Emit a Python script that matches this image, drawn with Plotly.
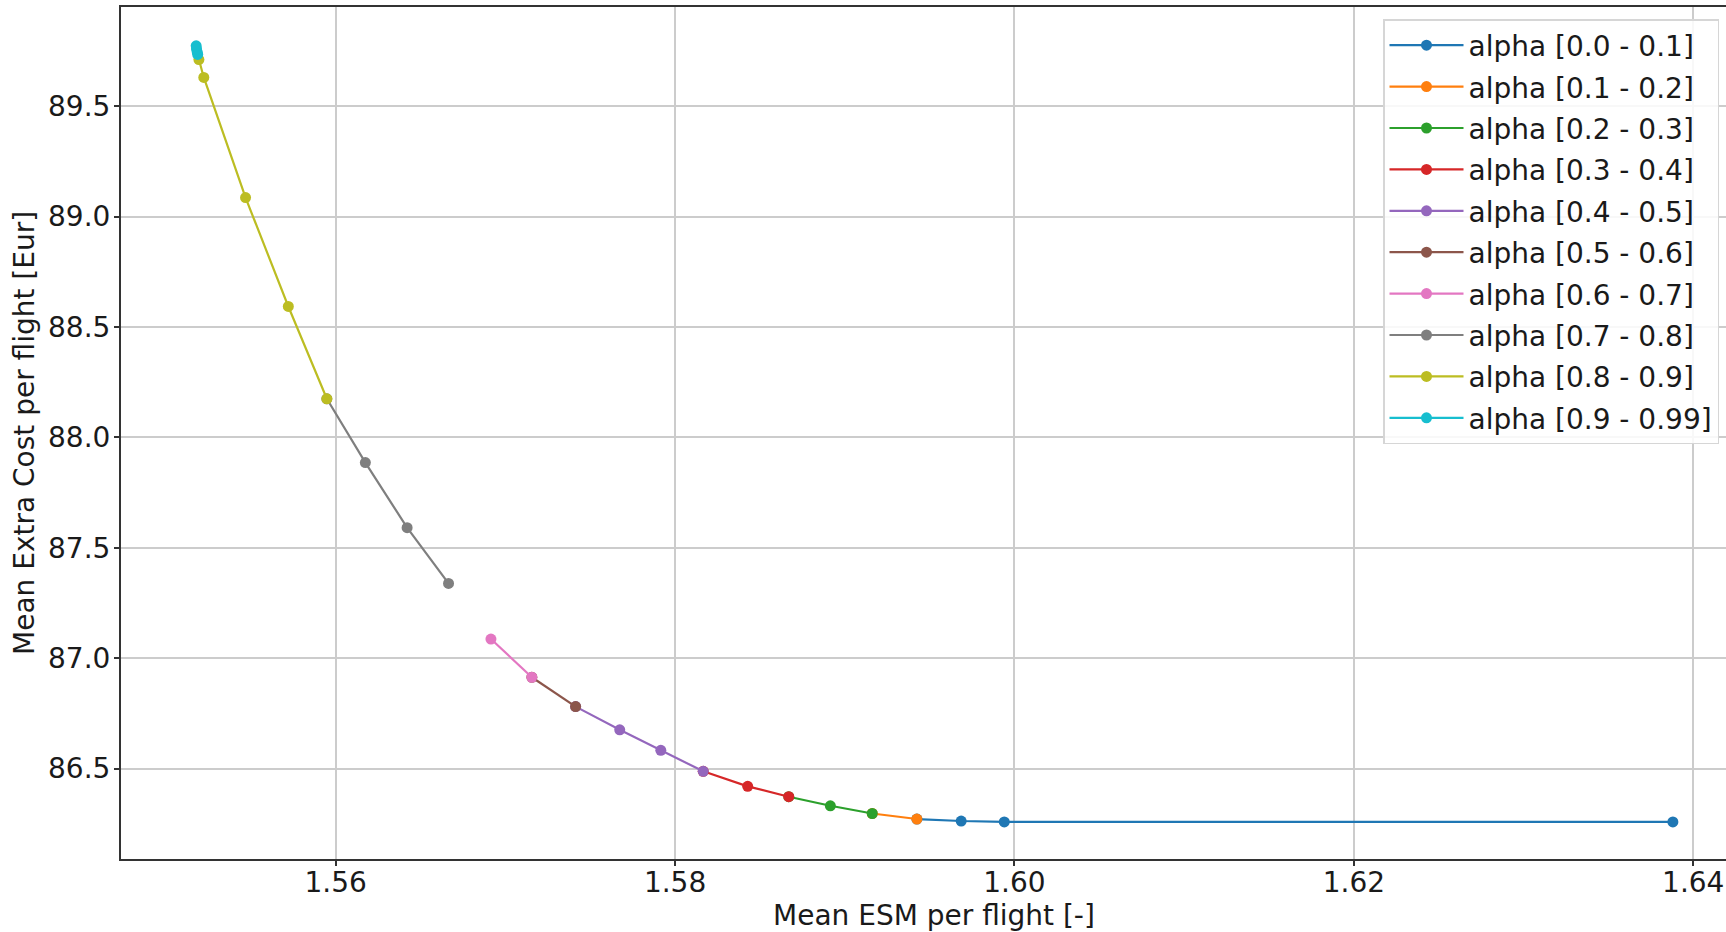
import plotly.graph_objects as go

series_names = [
    "alpha [0.0 - 0.1]", "alpha [0.1 - 0.2]", "alpha [0.2 - 0.3]", "alpha [0.3 - 0.4]",
    "alpha [0.4 - 0.5]", "alpha [0.5 - 0.6]", "alpha [0.6 - 0.7]", "alpha [0.7 - 0.8]",
    "alpha [0.8 - 0.9]", "alpha [0.9 - 0.99]",
]
series_colors = ["#1f77b4", "#ff7f0e", "#2ca02c", "#d62728", "#9467bd",
                 "#8c564b", "#e377c2", "#7f7f7f", "#bcbd22", "#17becf"]

esm_a00 = [1.6388, 1.5994, 1.59686, 1.59425]
cost_a00 = [86.259, 86.259, 86.263, 86.272]
esm_a01 = [1.59425, 1.59162]
cost_a01 = [86.272, 86.297]
esm_a02 = [1.59162, 1.58915, 1.58670]
cost_a02 = [86.297, 86.332, 86.373]
esm_a03 = [1.58670, 1.58428, 1.58166]
cost_a03 = [86.373, 86.420, 86.488]
esm_a04 = [1.58166, 1.57916, 1.57674, 1.57414]
cost_a04 = [86.488, 86.583, 86.676, 86.781]
esm_a05 = [1.57414, 1.57156]
cost_a05 = [86.781, 86.914]
esm_a06 = [1.57156, 1.56915]
cost_a06 = [86.914, 87.087]
esm_a07 = [1.56665, 1.56421, 1.56175, 1.55948]
cost_a07 = [87.339, 87.5915, 87.886, 88.175]
esm_a08 = [1.55948, 1.55721, 1.55469, 1.55223, 1.55194]
cost_a08 = [88.175, 88.593, 89.086, 89.630, 89.711]
esm_a09 = [1.55187, 1.55184, 1.55180, 1.55178]
cost_a09 = [89.734, 89.745, 89.759, 89.773]

esm_all = [esm_a00, esm_a01, esm_a02, esm_a03, esm_a04, esm_a05, esm_a06, esm_a07, esm_a08, esm_a09]
cost_all = [cost_a00, cost_a01, cost_a02, cost_a03, cost_a04, cost_a05, cost_a06, cost_a07, cost_a08, cost_a09]

x_ticks = [1.56, 1.58, 1.60, 1.62, 1.64]
y_ticks = [86.5, 87.0, 87.5, 88.0, 88.5, 89.0, 89.5]

FONT = "DejaVu Sans"
TXT = "#1a1a1a"

fig = go.Figure()
for i, (name, col, xs, ys) in enumerate(zip(series_names, series_colors, esm_all, cost_all)):
    fig.add_trace(go.Scatter(
        x=xs, y=ys, name=name, mode="lines+markers", legendgroup=f"g{i}",
        line=dict(color=col, width=2.2),
        marker=dict(color=col, size=11),
    ))

W, H = 1726, 932
ml, mr, mt, mb = 121, 0, 7, 73
pw = W - ml - mr
ph = H - mt - mb

fig.update_layout(
    width=W, height=H,
    margin=dict(l=ml, r=mr, t=mt, b=mb, pad=0),
    paper_bgcolor="white", plot_bgcolor="white",
    font=dict(family=FONT, size=28, color=TXT),
    showlegend=True,
    legend=dict(
        x=(1383 - ml) / pw, y=1 - (19 - mt) / ph, xanchor="left", yanchor="top",
        bgcolor="rgba(255,255,255,0.85)", bordercolor="#d6d6d6", borderwidth=1.5,
        font=dict(family=FONT, size=28, color=TXT),
        itemwidth=74, tracegroupgap=2,
    ),
    xaxis=dict(
        range=[1.54735, 1.64193], tickvals=x_ticks, ticktext=[f"{v:.2f}" for v in x_ticks],
        showgrid=True, gridcolor="#cccccc", gridwidth=1.5,
        showline=True, linecolor="#333333", linewidth=2, mirror=True,
        ticks="outside", ticklen=5, tickwidth=1.5, tickcolor="#333333",
        zeroline=False, ticklabelstandoff=-8,
        tickfont=dict(family=FONT, size=28, color=TXT),
    ),
    yaxis=dict(
        range=[86.091, 89.949], tickvals=y_ticks, ticktext=[f"{v:.1f}" for v in y_ticks],
        showgrid=True, gridcolor="#cccccc", gridwidth=1.5,
        showline=True, linecolor="#333333", linewidth=2,
        ticks="outside", ticklen=5, tickwidth=1.5, tickcolor="#333333",
        zeroline=False, ticklabelstandoff=-2,
        tickfont=dict(family=FONT, size=28, color=TXT),
    ),
    annotations=[
        dict(text="Mean ESM per flight [-]", xref="paper", yref="paper",
             x=(934 - ml) / pw, y=-(915 - (mt + ph)) / ph, xanchor="center", yanchor="middle",
             showarrow=False, font=dict(family=FONT, size=28, color=TXT)),
        dict(text="Mean Extra Cost per flight [Eur]", xref="paper", yref="paper",
             x=(24 - ml) / pw, y=0.5 - (433 - (mt + ph / 2)) / ph, xanchor="center", yanchor="middle",
             textangle=-90, showarrow=False, font=dict(family=FONT, size=28, color=TXT)),
    ],
)

fig.write_html(
    "out.html",
    config={"displayModeBar": False},
    post_script="document.body.style.margin='0px';document.body.style.overflow='hidden';",
)
